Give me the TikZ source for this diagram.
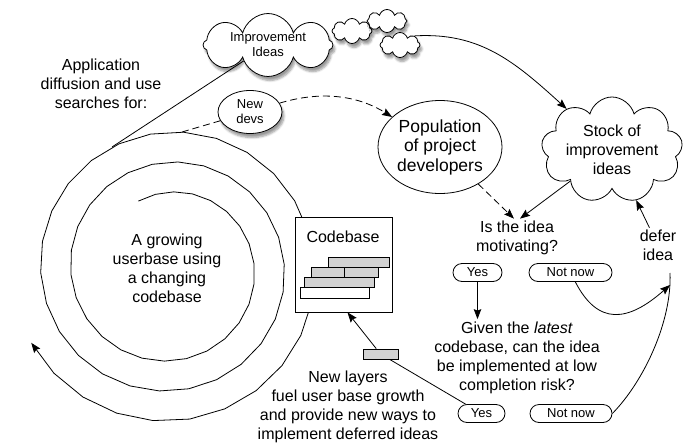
\documentclass[tikz,border=0pt]{standalone}
\usepackage{fontspec}
\setmainfont{Liberation Sans}
\usetikzlibrary{arrows.meta,shapes.geometric,shapes.symbols,shapes.misc,shadows.blur}

\begin{document}
\begin{tikzpicture}[
        x=1pt, y=-1pt,
        every node/.style={font=\fontsize{16}{19}\selectfont},
        txt/.style={align=center, inner sep=2pt},
        puff/.style={cloud, draw, fill=white, cloud puffs=10, cloud ignores aspect, inner sep=0pt, align=center, font=\fontsize{13}{15}\selectfont, blur shadow={shadow xshift=2pt, shadow yshift=-4pt, shadow blur steps=6}},
        stockcloud/.style={cloud, draw, fill=white, cloud puffs=9, cloud ignores aspect, minimum width=140pt, minimum height=106pt, inner sep=0pt, align=center},
        pool/.style={ellipse, draw, fill=white, inner sep=0pt, align=center},
        answer/.style={rounded rectangle, draw, fill=white, inner sep=1pt, minimum height=18pt, font=\fontsize{13}{15}\selectfont},
        codebox/.style={rectangle, draw, fill=white, minimum width=97pt, minimum height=95pt},
        layer/.style={draw, fill=gray!35},
        arrow/.style={-{Stealth[length=10pt, width=7.5pt, inset=1.5pt]}},
        longdash/.style={dash pattern=on 7pt off 4pt},
        every path/.style={line width=0.8pt}
    ]
    \useasboundingbox (0,0) rectangle (693,442);

    % Userbase spiral
    \draw[arrow] plot[domain=-25:962, samples=72] ({170+(77+\x/12)*sin(\x)}, {269-(77+\x/12)*cos(\x)});
    \coordinate (spiralA) at (112,147);
    \coordinate (spiralB) at (182,132);
    \node[txt] (userbase) at (167,268) {A growing\\userbase using\\a changing\\codebase};
    \node[txt] (search) at (101,84) {Application\\diffusion and use\\searches for:};

    % Clouds of ideas
    \node[puff, minimum width=130pt, minimum height=46pt, cloud puffs=8] (ideas) at (268,45) {Improvement\\Ideas};
    \node[puff, minimum width=40pt, minimum height=25pt, cloud puffs=8] (sc1) at (352,31) {};
    \node[puff, minimum width=40pt, minimum height=23pt, cloud puffs=8] (sc2) at (387,21) {};
    \node[puff, minimum width=40pt, minimum height=25pt, cloud puffs=8] (sc3) at (400,45) {};
    \node[pool, minimum width=64pt, minimum height=43pt, font=\fontsize{13}{15}\selectfont, blur shadow={shadow xshift=2pt, shadow yshift=-4pt, shadow blur steps=6}] (newdevs) at (250,112) {New\\devs};

    % Developers and stock of ideas
    \node[pool, minimum width=124pt, minimum height=93pt, font=\fontsize{17.5}{19.5}\selectfont] (population) at (440,147) {Population\\of project\\developers};
    \node[stockcloud] (stock) at (612,150) {Stock of\\improvement\\ideas};

    % Codebase
    \node[codebox] (codebase) at (343.5,264.5) {};
    \node (codelabel) at (343,237) {Codebase};
    \draw[layer] (328,257) rectangle (389,267);
    \draw[layer] (311,267) rectangle (344,277);
    \draw[layer] (344,267) rectangle (378,277);
    \draw[layer] (304,277) rectangle (374,287);
    \draw[layer, fill=white] (300,287) rectangle (369,298);
    \node[layer, minimum width=35pt, minimum height=10pt, inner sep=0pt] (newlayer) at (380.5,354) {};
    \node[txt] (fuel) at (348,406.5) {New layers\\fuel user base growth\\and provide new ways to\\implement deferred ideas};

    % Decisions
    \node[txt] (motiv) at (517,238) {Is the idea\\motivating?};
    \node[answer, minimum width=51pt] (yes1) at (477.5,272.5) {Yes};
    \node[answer, minimum width=85pt] (later1) at (570.5,272.5) {Not now};
    \node[txt] (risk) at (517,357.5) {Given the \textit{latest}\\codebase, can the idea\\be implemented at low\\completion risk?};
    \node[answer, minimum width=49pt] (yes2) at (481.5,413.5) {Yes};
    \node[answer, minimum width=84pt] (later2) at (571,413.5) {Not now};
    \node[txt] (defer) at (658,245.5) {defer\\idea};
    \coordinate (deferin) at (670,273);
    \coordinate (deferjoin) at (670,285);

    % Connectors
    \draw (ideas) -- (spiralA);
    \draw[longdash] (newdevs) -- (spiralB);
    \draw[arrow] (sc3.north east) .. controls (480,32) and (515,62) .. (stock);
    \draw[arrow, longdash] (newdevs) .. controls (330,88) and (365,100) .. (population);
    \draw[arrow, longdash] (population) -- ([xshift=-3pt]motiv.north);
    \draw[arrow] (stock) -- ([xshift=3pt]motiv.north);
    \draw[arrow] (yes1) -- (yes1.south |- risk.north);
    \draw[arrow] (later1) .. controls (598,326) and (628,322) .. (deferjoin);
    \draw (later2.east) .. controls (645,380) and (672,320) .. (deferin);
    \draw[arrow] (defer) -- (stock);
    \draw (yes2) -- (newlayer);
    \draw[arrow] (newlayer) -- ([xshift=4pt]codebase.south);

    \end{tikzpicture}
\end{document}
